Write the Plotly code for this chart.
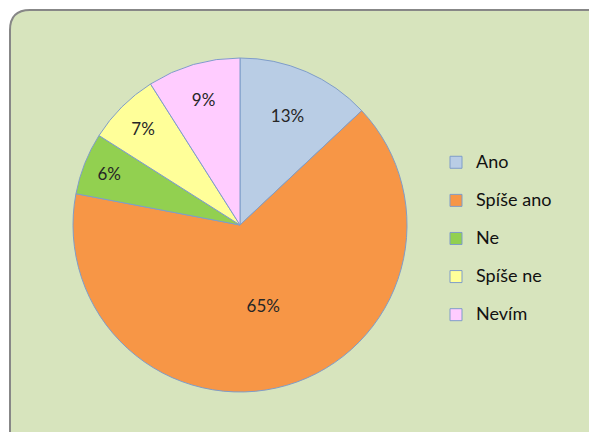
import plotly.graph_objects as go

W, H = 589, 432

labels = ["Ano", "Spíše ano", "Ne", "Spíše ne", "Nevím"]
values = [13, 65, 6, 7, 9]
colors = ["#B9CDE5", "#F79646", "#92D050", "#FFFF99", "#FFCCFF"]


def px(x):
    return x / W


def py(y):
    return 1 - y / H


# rounded panel behind the chart (extends past the right/bottom edges)
r = 20
panel_path = (
    f"M {px(10)},{py(10 + r)} "
    f"Q {px(10)},{py(10)} {px(10 + r)},{py(10)} "
    f"L {px(640)},{py(10)} L {px(640)},{py(470)} L {px(10)},{py(470)} Z"
)

# legend entries: larger visible text, blank second line for roomier spacing
legend_names = [f"<span style='font-size:18px'>{l}</span><br> " for l in labels]

fig = go.Figure()
fig.add_trace(
    go.Pie(
        labels=legend_names,
        values=values,
        sort=False,
        direction="clockwise",
        rotation=0,
        marker=dict(colors=colors, line=dict(color="#7F9DC9", width=1)),
        texttemplate="%{value}%",
        textposition="inside",
        insidetextorientation="horizontal",
        textfont=dict(family="Lato", size=17, color="#262626"),
        hoverinfo="label+value",
        domain=dict(x=[px(73), px(407)], y=[py(392), py(58)]),
    )
)

fig.update_layout(
    width=W,
    height=H,
    margin=dict(l=0, r=0, t=0, b=0),
    paper_bgcolor="white",
    plot_bgcolor="white",
    shapes=[
        dict(
            type="path",
            xref="paper",
            yref="paper",
            path=panel_path,
            fillcolor="#D7E4BD",
            line=dict(color="#878787", width=2),
            layer="below",
        )
    ],
    legend=dict(
        x=px(436),
        y=py(147),
        xanchor="left",
        yanchor="top",
        valign="top",
        bgcolor="rgba(0,0,0,0)",
        font=dict(family="Lato", size=13.5, color="#111111"),
    ),
)

fig.write_html("out.html")
